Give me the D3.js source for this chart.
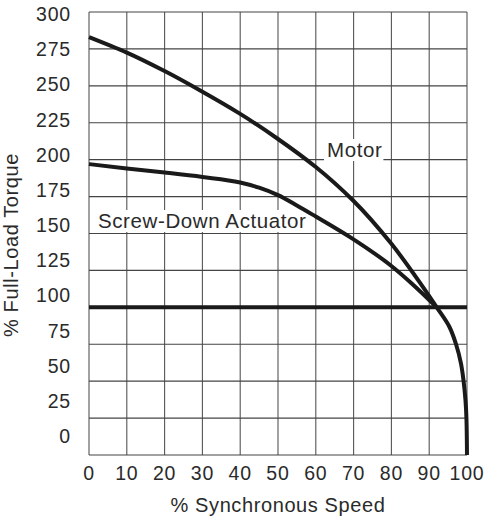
<!DOCTYPE html>
<html><head><meta charset="utf-8">
<script src="https://cdnjs.cloudflare.com/ajax/libs/d3/7.8.5/d3.min.js"></script>
<style>body{margin:0;background:#fff}svg{display:block}</style>
</head><body>
<svg id="c" width="490" height="523"></svg>
<script>
const xTicks = [0,10,20,30,40,50,60,70,80,90,100];
const yTicks = [0,25,50,75,100,125,150,175,200,225,250,275,300];
const motorSpeed  = [0,10,20,30,40,50,60,70,80,88,92,95.3,97.1,98.4,99.1,99.6,99.85,100];
const motorTorque = [283,272.5,260,246,231,214,195,172,143,115,100,87,75,62,50,37,25,0];
const actSpeed  = [0,10,20,30,40,45,50,55,60,70,80,85,90,92];
const actTorque = [197,194,191.3,188.3,184.5,181,176,169,161.5,146,128,117,105,100];
const fullLoad = 100;
const xTitle = "% Synchronous Speed";
const yTitle = "% Full-Load Torque";
const labelMotor = "Motor";
const labelAct = "Screw-Down Actuator";

const svg = d3.select("#c");
const x = d3.scaleLinear().domain([0,100]).range([89,467]);
const y = d3.scaleLinear().domain([0,300]).range([455,12]);
const yLab = d3.scaleLinear().domain([0,300]).range([436,14]);
const font = "'Liberation Sans', Arial, sans-serif";
const txtCol = "#2a2a2a";

const g = svg.append("g");
g.selectAll("line.v").data(xTicks).join("line")
  .attr("x1", d=>x(d)).attr("x2", d=>x(d)).attr("y1", y(300)).attr("y2", y(0))
  .attr("stroke", "#555").attr("stroke-width", 1.1);
g.selectAll("line.h").data(yTicks).join("line")
  .attr("x1", x(0)).attr("x2", x(100)).attr("y1", d=>y(d)).attr("y2", d=>y(d))
  .attr("stroke", "#444").attr("stroke-width", 1.1);

svg.append("g").selectAll("text").data(yTicks).join("text")
  .attr("x", 71).attr("y", d=>yLab(d)).attr("dy","0.36em")
  .attr("text-anchor","end").attr("font-family",font).attr("font-size",19.5)
  .attr("letter-spacing", "0.8px")
  .attr("fill",txtCol).text(d=>d);
svg.append("g").selectAll("text").data(xTicks).join("text")
  .attr("x", d=>x(d)).attr("y", 480)
  .attr("text-anchor","middle").attr("font-family",font).attr("font-size",19.5)
  .attr("letter-spacing", "0.8px")
  .attr("fill",txtCol).text(d=>d);

svg.append("text").attr("x", 278).attr("y", 512).attr("text-anchor","middle")
  .attr("font-family",font).attr("font-size",20).attr("letter-spacing","0.6px")
  .attr("fill",txtCol).text(xTitle);
svg.append("text").attr("transform","translate(18,245) rotate(-90)").attr("text-anchor","middle")
  .attr("font-family",font).attr("font-size",20).attr("letter-spacing","0.6px")
  .attr("fill",txtCol).text(yTitle);

function boxLabel(txt, tx, ty, fs){
  const t = svg.append("text").attr("x",tx).attr("y",ty).attr("font-family",font)
    .attr("font-size",fs).attr("letter-spacing","0.6px").attr("fill",txtCol).text(txt);
  const b = t.node().getBBox();
  svg.insert("rect", () => t.node()).attr("x", b.x-3).attr("y", b.y+1).attr("width", b.width+4).attr("height", b.height-1)
    .attr("fill","#fff");
}
boxLabel(labelMotor, 327, 157, 20.5);
boxLabel(labelAct, 98, 228, 20.5);

const motorLine = d3.line().curve(d3.curveMonotoneY);
const actLine = d3.line().curve(d3.curveMonotoneX);
svg.append("path").attr("d", motorLine(motorSpeed.map((s,i)=>[x(s), y(motorTorque[i])])))
  .attr("fill","none").attr("stroke","#1a1a1a").attr("stroke-width",4);
svg.append("path").attr("d", actLine(actSpeed.map((s,i)=>[x(s), y(actTorque[i])])))
  .attr("fill","none").attr("stroke","#1a1a1a").attr("stroke-width",4);
svg.append("line").attr("x1",x(0)).attr("x2",x(100)).attr("y1",y(fullLoad)).attr("y2",y(fullLoad))
  .attr("stroke","#1a1a1a").attr("stroke-width",4);
</script>
</body></html>
